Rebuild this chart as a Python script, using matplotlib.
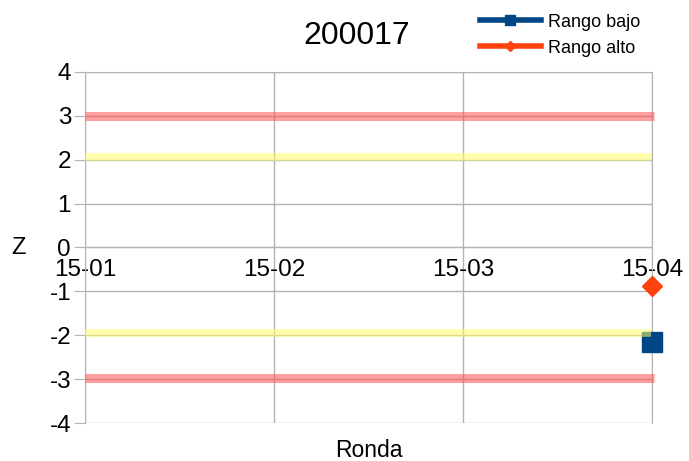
import matplotlib.pyplot as plt
import numpy as np

plt.rcParams['font.family'] = ['Liberation Sans', 'DejaVu Sans']
plt.rcParams['axes.unicode_minus'] = False

rondas = ['15-01', '15-02', '15-03', '15-04']
rango_bajo = [np.nan, np.nan, np.nan, -2.16]
rango_alto = [np.nan, np.nan, np.nan, -0.88]
# limit lines (red = +-3, yellow = +-2)
limites_rojo = [2.99, -2.98]
limites_amarillo = [2.07, -1.96]

fig = plt.figure(figsize=(6.89, 4.61), dpi=100)
ax = fig.add_axes([85/689, 1-423/461, (652-85)/689, (423-72)/461])

x = np.arange(len(rondas))
ax.plot(x, rango_bajo, color='#004586', lw=4, marker='s', ms=14,
        label='Rango bajo', clip_on=False, zorder=3)
ax.plot(x, rango_alto, color='#ff420e', lw=4, marker='D', ms=10,
        label='Rango alto', clip_on=False, zorder=3)

for v in limites_rojo:
    ax.plot([0, 3.01], [v, v], color='#ff5050', alpha=0.55, lw=6.5,
            solid_capstyle='butt', clip_on=False, zorder=4)
for v in limites_amarillo:
    ax.plot([0, 2.995], [v, v], color='#ffff66', alpha=0.55, lw=5.5,
            solid_capstyle='butt', clip_on=False, zorder=4)

ax.set_xlim(0, 3)
ax.set_ylim(-4, 4)
ax.set_yticks(range(-4, 5))
ax.set_xticks(x)
ax.set_xticklabels(rondas)
ax.grid(True, color='#b3b3b3', lw=1)
ax.set_axisbelow(True)

for s in ['top', 'right', 'left']:
    ax.spines[s].set_color('#b3b3b3')
ax.spines['bottom'].set_position(('data', 0))
ax.spines['bottom'].set_color('#b3b3b3')
ax.tick_params(axis='x', length=0, labelsize=17.5, pad=8)
ax.tick_params(axis='y', length=8, color='#b3b3b3', labelsize=17.5, pad=2)

ax.text(0.48, 1.06, '200017', transform=ax.transAxes, ha='center',
        va='bottom', fontsize=23)
ax.set_ylabel('Z', fontsize=17, rotation=0, va='center')
ax.yaxis.set_label_coords(-0.118, 0.5)
ax.text(0.5, -0.045, 'Ronda', transform=ax.transAxes, ha='center', va='top',
        fontsize=16.5)

fig.legend(loc='upper left', bbox_to_anchor=(466/689, 1.0), frameon=False,
           fontsize=13, handlelength=3.4, handletextpad=0.4,
           labelspacing=0.5, markerscale=0.55, borderaxespad=0.35)

fig.savefig('out.png', dpi=100)
